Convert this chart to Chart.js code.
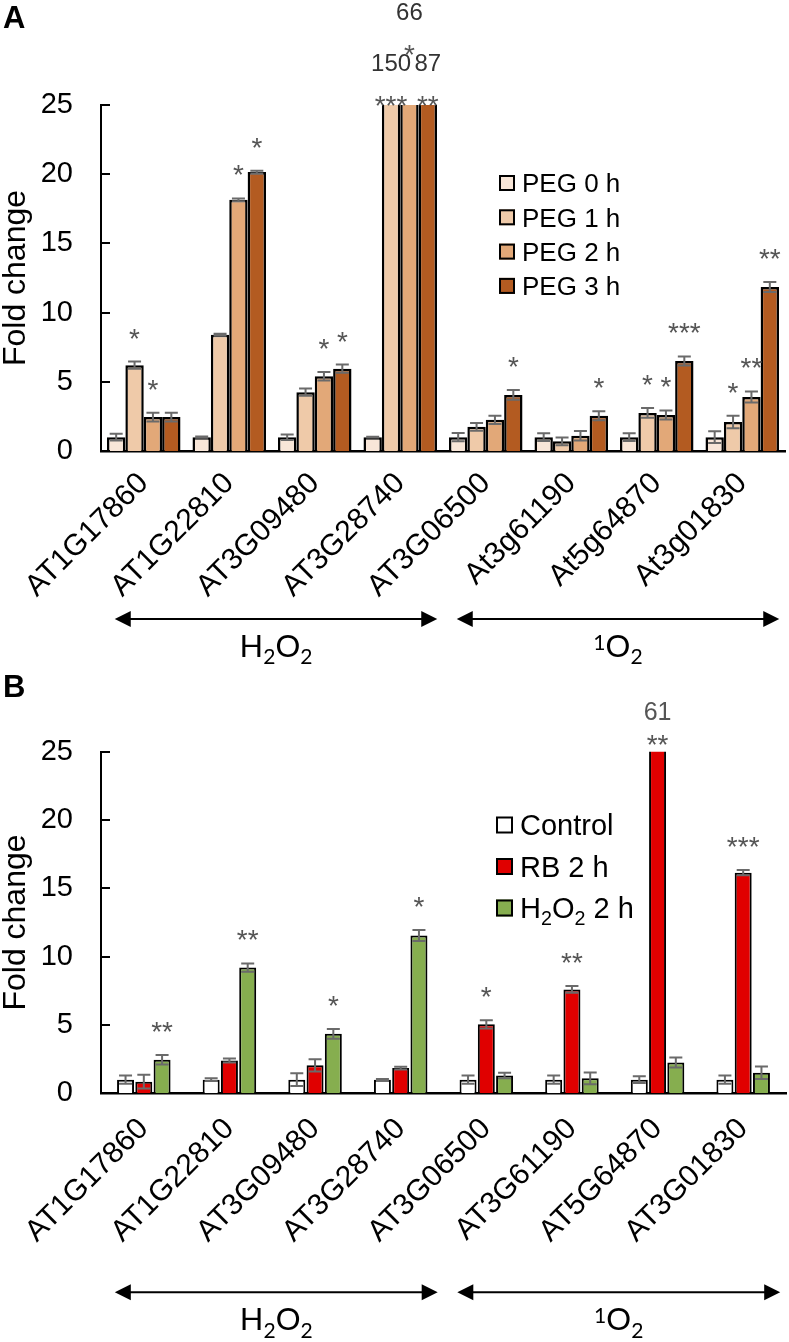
<!DOCTYPE html>
<html><head><meta charset="utf-8">
<script src="https://cdn.jsdelivr.net/npm/chart.js@4.4.1/dist/chart.umd.min.js"></script>
<style>
html,body{margin:0;padding:0;background:#fff;}
#wrap{position:relative;width:789px;height:1342px;overflow:hidden;}
canvas{position:absolute;left:0;}
#cA{top:0;} #cB{top:670px;}
</style></head><body>
<div id="wrap"><canvas id="cA" width="789" height="670"></canvas><canvas id="cB" width="789" height="672"></canvas></div>
<script>
// ---------- DATA ----------
const genesA = ['AT1G17860','AT1G22810','AT3G09480','AT3G28740','AT3G06500','At3g61190','At5g64870','At3g01830'];
const genesB = ['AT1G17860','AT1G22810','AT3G09480','AT3G28740','AT3G06500','AT3G61190','AT5G64870','AT3G01830'];
const yTicks = [0, 5, 10, 15, 20, 25];
const groupNames = ['H₂O₂', '¹O₂'];
const groupFirst = [0, 4];
const groupLast = [3, 7];

// Panel A
const seriesA = ['PEG 0 h', 'PEG 1 h', 'PEG 2 h', 'PEG 3 h'];
const peg0 = [1.0, 1.0, 1.0, 1.0, 1.0, 1.0, 1.0, 1.0];
const peg1 = [6.2, 8.4, 4.25, 150, 1.75, 0.7, 2.75, 2.1];
const peg2 = [2.45, 18.15, 5.4, 66, 2.25, 1.1, 2.6, 3.9];
const peg3 = [2.45, 20.15, 5.95, 87, 4.05, 2.55, 6.5, 11.85];
const peg0Err = [0.24, 0.05, 0.2, 0.03, 0.3, 0.28, 0.28, 0.42];
const peg1Err = [0.26, 0.07, 0.26, 0, 0.28, 0.28, 0.35, 0.45];
const peg2Err = [0.31, 0.1, 0.3, 0, 0.3, 0.35, 0.33, 0.4];
const peg3Err = [0.31, 0.1, 0.3, 0, 0.35, 0.33, 0.33, 0.36];
const peg0Sig = ['', '', '', '', '', '', '', ''];
const peg1Sig = ['*', '', '', '***', '', '', '*', '*'];
const peg2Sig = ['*', '*', '*', '*', '', '', '*', '**'];
const peg3Sig = ['', '*', '*', '**', '*', '*', '***', '**'];

// Panel B
const seriesB = ['Control', 'RB 2 h', 'H₂O₂ 2 h'];
const ctrl = [1.0, 1.0, 1.0, 1.0, 1.0, 1.0, 1.0, 1.0];
const rb = [0.85, 2.4, 2.05, 1.85, 5.05, 7.6, 61, 16.15];
const h2o2 = [2.45, 9.2, 4.35, 11.55, 1.3, 1.1, 2.25, 1.5];
const ctrlErr = [0.3, 0.1, 0.47, 0.05, 0.3, 0.3, 0.25, 0.3];
const rbErr = [0.5, 0.15, 0.45, 0.1, 0.3, 0.25, 0, 0.2];
const h2o2Err = [0.35, 0.3, 0.35, 0.4, 0.2, 0.43, 0.37, 0.46];
const ctrlSig = ['', '', '', '', '', '', '', ''];
const rbSig = ['', '', '', '', '*', '**', '**', '***'];
const h2o2Sig = ['**', '**', '*', '*', '', '', '', ''];

// ---------- HELPERS ----------
const SANS = "'Liberation Sans', Arial, sans-serif";
Chart.defaults.font.family = SANS;
Chart.defaults.color = '#000';
Chart.defaults.animation = false;

function drawRich(ctx, text, x, y, size, family, align) {
  const subs = {'₂': '2', '₁': '1'}, sups = {'¹': '1', '²': '2'};
  const parts = [];
  for (const ch of text) {
    let t = 'n', c = ch;
    if (subs[ch]) { t = 'sub'; c = subs[ch]; } else if (sups[ch]) { t = 'sup'; c = sups[ch]; }
    const last = parts[parts.length - 1];
    if (last && last.t === t) last.c += c; else parts.push({t, c});
  }
  let total = 0;
  parts.forEach(p => {
    p.size = p.t === 'n' ? size : size * 0.68;
    ctx.font = p.size + 'px ' + family;
    p.w = ctx.measureText(p.c).width;
    total += p.w;
  });
  let cx = align === 'center' ? x - total / 2 : x;
  ctx.textAlign = 'left';
  parts.forEach(p => {
    ctx.font = p.size + 'px ' + family;
    const dy = p.t === 'sub' ? size * 0.24 : (p.t === 'sup' ? -size * 0.23 : 0);
    ctx.fillText(p.c, cx, y + dy);
    cx += p.w;
  });
}

const errorBarPlugin = {
  id: 'errbars',
  afterDatasetsDraw(chart, args, o) {
    const ctx = chart.ctx, y = chart.scales.y;
    ctx.save();
    ctx.strokeStyle = o.color; ctx.lineWidth = o.width;
    chart.data.datasets.forEach((ds, i) => {
      chart.getDatasetMeta(i).data.forEach((bar, j) => {
        const v = ds.data[j], e = ds.errors[j];
        if (!e || v > y.max) return;
        const yt = y.getPixelForValue(v + e), yb = y.getPixelForValue(v - e);
        ctx.beginPath();
        ctx.moveTo(bar.x, yt); ctx.lineTo(bar.x, yb);
        ctx.moveTo(bar.x - o.cap / 2, yt); ctx.lineTo(bar.x + o.cap / 2, yt);
        ctx.moveTo(bar.x - o.cap / 2, yb); ctx.lineTo(bar.x + o.cap / 2, yb);
        ctx.stroke();
      });
    });
    ctx.restore();
  }
};

const sigPlugin = {
  id: 'sig',
  afterDatasetsDraw(chart, args, o) {
    const ctx = chart.ctx, y = chart.scales.y, top = chart.chartArea.top;
    ctx.save();
    ctx.textAlign = 'center'; ctx.textBaseline = 'alphabetic';
    const n = chart.data.labels.length;
    for (let j = 0; j < n; j++) {
      let run = 0;
      chart.data.datasets.forEach((ds, i) => {
        const bar = chart.getDatasetMeta(i).data[j];
        const v = ds.data[j], s = ds.sig[j];
        if (v > y.max) {
          const dy = (run % 2) * o.levelShift; run++;
          ctx.fillStyle = o.starColor; ctx.font = o.starFont;
          if (s) ctx.fillText(s, bar.x, top + o.overStar - dy);
          ctx.fillStyle = o.numColor; ctx.font = o.numFont;
          ctx.fillText(String(v), bar.x, top + o.overNum - dy);
        } else {
          run = 0;
          if (s) {
            ctx.fillStyle = o.starColor; ctx.font = o.starFont;
            ctx.fillText(s, bar.x, y.getPixelForValue(v + (ds.errors[j] || 0)) - o.gap);
          }
        }
      });
    }
    ctx.restore();
  }
};

const decorPlugin = {
  id: 'decor',
  afterDraw(chart, args, o) {
    const ctx = chart.ctx, ca = chart.chartArea, x = chart.scales.x, y = chart.scales.y;
    ctx.save();
    // inside y ticks
    ctx.strokeStyle = '#000'; ctx.lineWidth = 2;
    y.ticks.forEach(t => {
      const py = Math.round(y.getPixelForValue(t.value));
      ctx.beginPath(); ctx.moveTo(ca.left, py); ctx.lineTo(ca.left + 9, py); ctx.stroke();
    });
    // legend
    chart.data.datasets.forEach((ds, i) => {
      const cy = o.legY + i * o.legStep;
      ctx.fillStyle = ds.backgroundColor;
      ctx.fillRect(o.legX, cy - o.legBox / 2, o.legBox, o.legBox);
      ctx.strokeStyle = '#000'; ctx.lineWidth = 2;
      ctx.strokeRect(o.legX + 1, cy - o.legBox / 2 + 1, o.legBox - 2, o.legBox - 2);
      ctx.fillStyle = '#000';
      ctx.textBaseline = 'alphabetic';
      drawRich(ctx, ds.label, o.legX + o.legBox + o.legGap, cy + o.legSize * 0.36, o.legSize, SANS, 'left');
    });
    // group arrows
    const ay = ca.bottom + o.arrowOffset;
    ctx.strokeStyle = '#000'; ctx.fillStyle = '#000'; ctx.lineWidth = 2;
    groupNames.forEach((g, k) => {
      const x1 = x.getPixelForValue(groupFirst[k]) - 29;
      const x2 = x.getPixelForValue(groupLast[k]) + 37;
      ctx.beginPath(); ctx.moveTo(x1 + 10, ay); ctx.lineTo(x2 - 10, ay); ctx.stroke();
      ctx.beginPath(); ctx.moveTo(x1, ay); ctx.lineTo(x1 + 16, ay - 8); ctx.lineTo(x1 + 16, ay + 8); ctx.closePath(); ctx.fill();
      ctx.beginPath(); ctx.moveTo(x2, ay); ctx.lineTo(x2 - 16, ay - 8); ctx.lineTo(x2 - 16, ay + 8); ctx.closePath(); ctx.fill();
      ctx.textBaseline = 'alphabetic';
      drawRich(ctx, g, (x1 + x2) / 2, ay + 38, 31, "Lato, 'Open Sans', sans-serif", 'center');
    });
    // panel letter
    ctx.font = 'bold 31px ' + SANS; ctx.textAlign = 'left'; ctx.textBaseline = 'alphabetic';
    ctx.fillText(o.letter, 3, o.letterY);
    ctx.restore();
  }
};

function makeChart(id, labels, series, values, errs, sigs, colors, opt) {
  const canvas = document.getElementById(id);
  const H = canvas.height;
  return new Chart(canvas, {
    type: 'bar',
    data: {
      labels: labels,
      datasets: series.map((s, i) => ({
        label: s, data: values[i], errors: errs[i], sig: sigs[i],
        backgroundColor: colors[i], borderColor: '#000', borderWidth: opt.bw,
        categoryPercentage: opt.cat, barPercentage: opt.bar
      }))
    },
    options: {
      responsive: false, maintainAspectRatio: false,
      layout: {padding: {top: opt.top, right: opt.right, left: 0, bottom: 0}},
      plugins: {
        legend: {display: false}, tooltip: {enabled: false},
        errbars: {color: '#6a6a6a', width: 2, cap: 13},
        sig: opt.sig,
        decor: opt.decor
      },
      scales: {
        x: {
          grid: {display: false, drawTicks: false},
          border: {display: true, color: '#000', width: 2.5},
          ticks: {autoSkip: false, minRotation: 45, maxRotation: 45, padding: opt.tickPad,
                  font: {size: 30, family: SANS}, color: '#000'},
          afterFit(s) { s.height = H - opt.bottom; }
        },
        y: {
          min: 0, max: 25,
          afterBuildTicks(s) { s.ticks = yTicks.map(v => ({value: v})); },
          grid: {display: false, drawTicks: false},
          border: {display: true, color: '#000', width: 2},
          ticks: {padding: 28, font: {size: 29, family: SANS}, color: '#000'},
          title: {display: true, text: 'Fold change', font: {size: 32, family: SANS, lineHeight: 1}, padding: {top: 0, bottom: 0}, color: '#000'},
          afterFit(s) { s.width = 101; }
        }
      }
    },
    plugins: [errorBarPlugin, sigPlugin, decorPlugin]
  });
}

makeChart('cA', genesA, seriesA, [peg0, peg1, peg2, peg3], [peg0Err, peg1Err, peg2Err, peg3Err],
  [peg0Sig, peg1Sig, peg2Sig, peg3Sig], ['#f8e6d8', '#efcaa9', '#e2a878', '#b35b21'],
  {bw: 2.5, cat: 0.86, bar: 1.0, top: 105, right: 4, bottom: 451, tickPad: 15,
   sig: {gap: 14, starFont: '28px ' + SANS, starColor: '#555', numFont: '24px ' + SANS, numColor: '#333',
         overStar: 10, overNum: -34, levelShift: 51},
   decor: {legX: 499, legY: 183, legStep: 34.3, legBox: 16, legGap: 7, legSize: 26,
           arrowOffset: 168, letter: 'A', letterY: 28}});

makeChart('cB', genesB, seriesB, [ctrl, rb, h2o2], [ctrlErr, rbErr, h2o2Err],
  [ctrlSig, rbSig, h2o2Sig], ['#ffffff', '#e00000', '#86ae4f'],
  {bw: 2, cat: 0.64, bar: 0.93, top: 81.7, right: 3, bottom: 423.3, tickPad: 18,
   sig: {gap: 14, starFont: '28px ' + SANS, starColor: '#555', numFont: '25px ' + SANS, numColor: '#555',
         overStar: 2, overNum: -32, levelShift: 51},
   decor: {legX: 496, legY: 155, legStep: 41.5, legBox: 17, legGap: 7, legSize: 29,
           arrowOffset: 199, letter: 'B', letterY: 27}});
</script>
</body></html>
